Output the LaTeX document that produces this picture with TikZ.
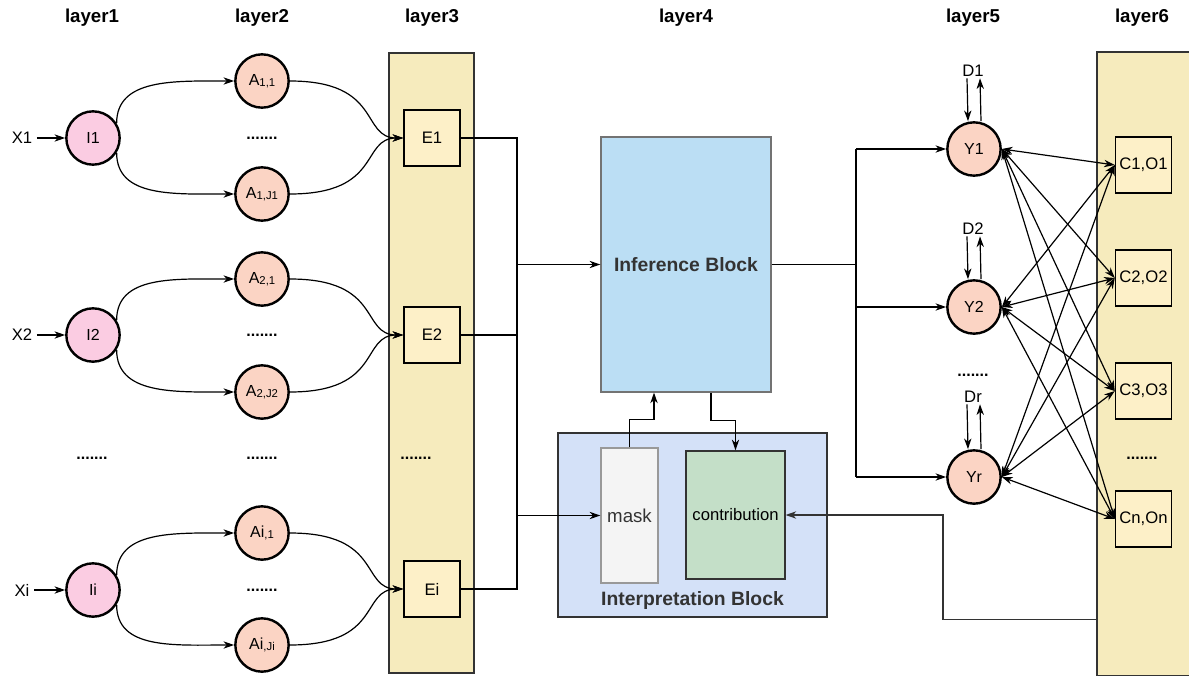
\documentclass[tikz,border=0pt]{standalone}
\usepackage{fontspec}
\setmainfont{Liberation Sans}
\usetikzlibrary{arrows.meta}

\definecolor{inpink}{HTML}{FBCCE2}
\definecolor{actsalmon}{HTML}{FBD4C4}
\definecolor{bandyel}{HTML}{F6EBBD}
\definecolor{boxyel}{HTML}{FDF0C8}
\definecolor{infblue}{HTML}{BBDEF4}
\definecolor{intblue}{HTML}{D4E1F8}
\definecolor{maskgray}{HTML}{F4F4F4}
\definecolor{contgreen}{HTML}{C4DFC8}
\definecolor{darktxt}{HTML}{333333}

\newcommand{\sublbl}[1]{\raisebox{-1pt}{\fontsize{8.5}{9}\selectfont #1}}

\tikzset{
  lbl/.style={font=\fontsize{12.5}{14}\selectfont},
  hdr/.style={font=\fontsize{14}{16}\selectfont\bfseries},
  dots/.style={font=\fontsize{12}{13}\selectfont\bfseries},
  blocktitle/.style={font=\fontsize{14.5}{16}\selectfont\bfseries, text=darktxt},
  innode/.style={circle, draw, line width=1.8pt, fill=inpink, minimum size=40pt, inner sep=0pt, font=\fontsize{12}{14}\selectfont},
  actnode/.style={innode, fill=actsalmon},
  ebox/.style={draw, line width=1.1pt, fill=boxyel, minimum size=42pt, inner sep=0pt, lbl},
  band/.style={draw=darktxt, line width=1.1pt, fill=bandyel, inner sep=0pt},
  conn/.style={line width=0.9pt},
}

\begin{document}
\begin{tikzpicture}[x=0.75pt, y=-0.75pt, >={Stealth[length=8pt,width=5.5pt,inset=2.5pt]}]
  \useasboundingbox (0,0) rectangle (1189,678);

  % bands of layer3 and layer6
  \node[band, minimum width=63.75pt, minimum height=465pt] (L3) at (431.5,363) {};
  \node[band, draw=none, anchor=north west, minimum width=69pt, minimum height=466.5pt] (L6) at (1097,52) {};
  \draw[line width=1.1pt, darktxt] (L6.north east) -- (L6.north west) -- (L6.south west) -- (L6.south east);

  % headers
  \node[hdr] (h1) at (92,18) {layer1};
  \node[hdr] (h2) at (262,18) {layer2};
  \node[hdr] (h3) at (432,18) {layer3};
  \node[hdr] (h4) at (686,18) {layer4};
  \node[hdr] (h5) at (973,18) {layer5};
  \node[hdr] (h6) at (1142,18) {layer6};

  % layer1 - layer3
  \node[lbl] (X1) at (22,138) {X1};
  \node[innode] (I1) at (93,138) {I1};
  \node[actnode] (A11) at (262,81) {A\sublbl{1,1}};
  \node[dots] (d1) at (262,138) {.......};
  \node[actnode] (A1J) at (262,194) {A\sublbl{1,J1}};
  \node[ebox] (E1) at (432,138) {E1};

  \node[lbl] (X2) at (22,335) {X2};
  \node[innode] (I2) at (93,335) {I2};
  \node[actnode] (A21) at (262,279) {A\sublbl{2,1}};
  \node[dots] (d2) at (262,335) {.......};
  \node[actnode] (A2J) at (262,392) {A\sublbl{2,J2}};
  \node[ebox] (E2) at (432,335) {E2};

  \node[dots] (c1) at (92,458) {.......};
  \node[dots] (c2) at (262,458) {.......};
  \node[dots] (c3) at (416,458) {.......};

  \node[lbl] (Xi) at (22,590) {Xi};
  \node[innode] (Ii) at (93,590) {Ii};
  \node[actnode] (Ai1) at (262,533) {Ai\sublbl{,1}};
  \node[dots] (di) at (262,590) {.......};
  \node[actnode] (AiJ) at (262,645) {Ai\sublbl{,Ji}};
  \node[ebox] (Ei) at (432,589) {Ei};

  \draw[conn,->] (X1) -- (I1);
  \draw[conn,->] (I1.32) .. controls +(0,-45) and +(-60,0) .. (A11.west);
  \draw[conn,->] (I1.-32) .. controls +(0,45) and +(-60,0) .. (A1J.west);
  \draw[conn,->] (A11.east) .. controls +(93,0) and +(-43,0) .. (E1.west);
  \draw[conn,->] (A1J.east) .. controls +(93,0) and +(-43,0) .. (E1.west);

  \draw[conn,->] (X2) -- (I2);
  \draw[conn,->] (I2.32) .. controls +(0,-45) and +(-60,0) .. (A21.west);
  \draw[conn,->] (I2.-32) .. controls +(0,45) and +(-60,0) .. (A2J.west);
  \draw[conn,->] (A21.east) .. controls +(93,0) and +(-43,0) .. (E2.west);
  \draw[conn,->] (A2J.east) .. controls +(93,0) and +(-43,0) .. (E2.west);

  \draw[conn,->] (Xi) -- (Ii);
  \draw[conn,->] (Ii.32) .. controls +(0,-45) and +(-60,0) .. (Ai1.west);
  \draw[conn,->] (Ii.-32) .. controls +(0,45) and +(-60,0) .. (AiJ.west);
  \draw[conn,->] (Ai1.east) .. controls +(93,0) and +(-43,0) .. (Ei.west);
  \draw[conn,->] (AiJ.east) .. controls +(93,0) and +(-43,0) .. (Ei.west);

  % layer4
  \node[draw=black!55, line width=1.1pt, fill=infblue, minimum width=127.5pt, minimum height=191pt, blocktitle] (inf) at (686,264.5) {Inference Block};
  \node[draw=darktxt, line width=1.1pt, fill=intblue, minimum width=201.75pt, minimum height=138pt] (intp) at (692.5,525) {};
  \node[blocktitle] (intlbl) at (692.5,600) {Interpretation Block};
  \node[draw=black!40, line width=1.1pt, fill=maskgray, minimum width=42.75pt, minimum height=101pt, inner sep=0pt, font=\fontsize{14}{16}\selectfont, text=darktxt] (mask) at (629.5,515.5) {mask};
  \node[draw=darktxt, line width=1.1pt, fill=contgreen, minimum width=74pt, minimum height=96pt, inner sep=0pt, font=\fontsize{12.5}{14}\selectfont] (contrib) at (735.5,515) {contribution};

  \coordinate (busL) at (517,264.5);
  \draw[conn] (E1.east) -- (E1.east -| busL) -- (Ei.east -| busL) -- (Ei.east);
  \draw[conn] (E2.east) -- (E2.east -| busL);
  \draw[conn,->] (busL) -- (inf.west);
  \draw[conn,->] (mask.west -| busL) -- (mask.west);
  \draw[conn,->] (mask.north) -- ++(0,-28) -| ([xshift=-24pt]inf.south);
  \draw[conn,->] ([xshift=18.75pt]inf.south) -- ++(0,28) -| (contrib.north);

  % layer5
  \node[actnode] (Y1) at (974,149) {Y1};
  \node[actnode] (Y2) at (974,307) {Y2};
  \node[dots] (d5) at (973,375) {.......};
  \node[actnode] (Yr) at (974,477) {Yr};
  \node[lbl, inner sep=1pt] (D1) at (973,71) {D1};
  \node[lbl, inner sep=1pt] (D2) at (973,229) {D2};
  \node[lbl, inner sep=1pt] (Dr) at (973,397) {Dr};

  \draw[conn,->] ([xshift=-4.5pt]D1.south) -- ([xshift=-4.5pt]Y1.north);
  \draw[conn,->] ([xshift=5.25pt]Y1.north) -- ([xshift=5.25pt]D1.south);
  \draw[conn,->] ([xshift=-4.5pt]D2.south) -- ([xshift=-4.5pt]Y2.north);
  \draw[conn,->] ([xshift=5.25pt]Y2.north) -- ([xshift=5.25pt]D2.south);
  \draw[conn,->] ([xshift=-4.5pt]Dr.south) -- ([xshift=-4.5pt]Yr.north);
  \draw[conn,->] ([xshift=5.25pt]Yr.north) -- ([xshift=5.25pt]Dr.south);

  \coordinate (busR) at (856,264.5);
  \draw[conn] (inf.east) -- (busR);
  \draw[conn] (Y1.west -| busR) -- (Yr.west -| busR);
  \draw[conn,->] (Y1.west -| busR) -- (Y1.west);
  \draw[conn,->] (Y2.west -| busR) -- (Y2.west);
  \draw[conn,->] (Yr.west -| busR) -- (Yr.west);

  % layer6
  \node[ebox] (C1) at (1143.5,165) {C1,O1};
  \node[ebox] (C2) at (1143.5,278) {C2,O2};
  \node[ebox] (C3) at (1143.5,391) {C3,O3};
  \node[dots] (d6) at (1142,458) {.......};
  \node[ebox] (Cn) at (1143.5,519) {Cn,On};

  \foreach \a in {Y1,Y2,Yr}
    \foreach \b in {C1,C2,C3,Cn}
      \draw[conn,<->] (\a.east) -- (\b.west);

  \draw[conn,->,darktxt] ([yshift=42pt]L6.south west) -- ++(-154,0) |- (contrib.east);
\end{tikzpicture}
\end{document}
